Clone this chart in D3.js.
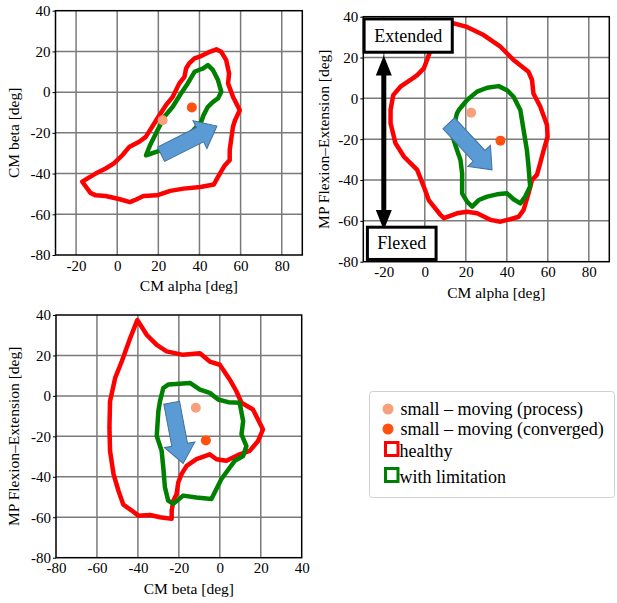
<!DOCTYPE html>
<html>
<head>
<meta charset="utf-8">
<script src="https://cdn.jsdelivr.net/npm/d3@7"></script>
<style>
  body { margin: 0; background: #fff; }
  svg text { font-family: "Liberation Serif", Tinos, "Times New Roman", Times, "DejaVu Serif", serif; fill: #000; }
</style>
</head>
<body>
<svg id="chart" width="617" height="603"></svg>
<script>
// outlines, [x, y] in degrees
var healthyAlphaBeta = [[-17,-44],[-13,-49.5],[-10.5,-50.7],[-5.6,-51],[1.3,-52.6],[6.2,-54],[9.5,-52.6],[12.8,-51],
  [19.3,-50.7],[25.8,-48.5],[32.3,-47.4],[40.5,-46.6],[47,-45.4],[49,-41.6],[52.3,-36],[54.7,-33.4],[54.7,-28.5],
  [56.3,-17],[57.3,-13.8],[59.6,-8.9],[56.3,-2.3],[53.9,4.3],[54.4,9.2],[53,15.7],[50.6,19.8],[48.2,21],[45,19.8],
  [40.8,17.7],[37.6,16.6],[35,14.1],[33.5,11.6],[32.7,7.5],[30.2,4.3],[27,-2.3],[23.7,-6.4],[20.5,-11.3],[18,-15.4],
  [13.9,-22],[10.7,-24.4],[5.8,-27],[2.5,-31],[-1.6,-35],[-5.6,-37.5],[-10.5,-40],[-14.6,-42.5]];
var limitedAlphaBeta = [[14,-31],[16,-26],[19.6,-18.7],[22.9,-12.1],[27,-7.2],[31,-0.7],[34.3,4.3],[37.6,10],[40,11],
  [41.6,11.6],[44.1,13.3],[46.6,10.8],[49,5.9],[50.6,0.2],[49,-3.1],[46.6,-4.8],[44.1,-7.2],[42,-11.3],[40.8,-14.6],
  [35,-21],[28,-26],[19,-29.3]];

var healthyAlphaMP = [[2.8,23.7],[5,30],[9,34.5],[14.1,36.7],[20.6,35],[28.7,31],[36.9,25.3],[43.3,18.8],[50.6,13],
  [52.3,9],[53,2.4],[56.3,-4],[59.6,-13],[59.9,-18.8],[58,-25.3],[56.3,-31.8],[54.7,-37.5],[52.3,-40],[50.6,-46.5],
  [48.2,-54.6],[45.8,-58],[41.7,-59.2],[36.9,-60.4],[32,-59.5],[25.5,-56.3],[20.6,-55.5],[15.7,-56.3],[9.3,-58.7],
  [7.6,-57],[1.9,-49.8],[-0.5,-43.2],[-3.7,-35],[-10.2,-28.5],[-14.3,-22],[-16.7,-12.2],[-16.7,-5.7],[-15.4,1.6],
  [-11.9,5.7],[-7,9],[-3.7,11.4],[-0.5,14.7],[1.1,18.8]];
var limitedAlphaMP = [[16.6,-5.7],[20.6,-0.8],[25.5,3.3],[30.4,5.2],[36,6],[40.1,4],[43.3,0.8],[46.6,-5.7],[48.2,-15.5],
  [49.8,-25.3],[50.6,-33.4],[51.4,-43.2],[49,-48.1],[46.6,-51.4],[43.3,-49.4],[40.1,-46.5],[35.2,-47],[30.4,-48.1],
  [26.3,-49.8],[23.1,-53],[20.6,-50.6],[18.2,-46.5],[18.2,-36.7],[17.4,-30.2],[15.7,-25.3],[14.1,-20.4],[14.1,-13.9],
  [15.7,-7.3]];

var healthyBetaMP = [[-40.3,37.5],[-35.7,30.2],[-30.8,25.2],[-26,22],[-17.9,20.3],[-9.7,21.1],[-4.9,17],[0,15.4],
  [4.9,8],[8.1,2.3],[10.6,-3.4],[16.2,-6.7],[21.1,-16.6],[18.7,-22.3],[14.6,-27.2],[9.7,-28.9],[3.2,-32.1],
  [-1.6,-31.3],[-4.9,-28.9],[-11.4,-31.3],[-16.2,-34.6],[-18.7,-38.7],[-20.3,-42.8],[-21.1,-48.5],[-22.7,-51.8],
  [-23.5,-56.7],[-23.5,-60.8],[-29.2,-60],[-34.1,-58.9],[-39.8,-59.2],[-43,-56.7],[-47.1,-53.8],[-49.5,-46.9],
  [-51.9,-38.7],[-53.6,-27.2],[-53.9,-15.7],[-53.6,-2.6],[-51.1,8.9],[-47.9,17],[-43.8,28.5]];
var limitedBetaMP = [[-27.6,3.9],[-25.2,5.6],[-19.5,6],[-14.6,6.4],[-9.7,3.1],[-4.9,1.5],[-0.8,-1.8],[4.1,-3.1],
  [9.7,-3.4],[11.4,-12.5],[10.6,-19],[13,-24.8],[11.4,-29.7],[7.3,-32.1],[4.9,-35.4],[0.8,-41.1],[-4.1,-51],
  [-11.4,-50.2],[-17.9,-49.3],[-22.7,-53.4],[-25.2,-51.8],[-26.8,-45.2],[-27.6,-35.4],[-28.4,-27.2],[-30.8,-19.8],
  [-30,-7.5],[-29.2,-2.6]];

// small - moving points: [process, converged]
var movingAlphaBeta = [[22.1,-13.8],[36.3,-7.5]];
var movingAlphaMP = [[22.6,-7],[36.9,-20.7]];
var movingBetaMP = [[-11.7,-5.9],[-6.8,-22]];

// block arrows: [tail, tip]
var arrowAlphaBeta = [[21.3,-30.5],[48.5,-16.7]];
var arrowAlphaMP = [[11.7,-12.2],[32.8,-35]];
var arrowBetaMP = [[-23.5,-3.4],[-17.9,-33.4]];

var ticksAlpha = [-20, 0, 20, 40, 60, 80];
var ticksBeta = [-80, -60, -40, -20, 0, 20, 40];
var ticksY = [-80, -60, -40, -20, 0, 20, 40];

var legendLabels = ["small \u2013 moving (process)", "small \u2013 moving (converged)", "healthy", "with limitation"];

var RED = "#ff0000", GREEN = "#008000", PROC = "#f8a07c", CONV = "#ff5010";
var BLUE = "#5b9bd5", BLUE_EDGE = "#41719c";

var svg = d3.select("#chart");
var plain = function(d) { return String(d); };   // hyphen, not the unicode minus

function blockArrow(g, x, y, pts, shaftW, headW, headL, fill, edge) {
  var x0 = x(pts[0][0]), y0 = y(pts[0][1]), x1 = x(pts[1][0]), y1 = y(pts[1][1]);
  var len = Math.hypot(x1 - x0, y1 - y0), ang = Math.atan2(y1 - y0, x1 - x0) * 180 / Math.PI;
  var body = len - headL;
  var poly = [[0,-shaftW/2],[body,-shaftW/2],[body,-headW/2],[len,0],[body,headW/2],[body,shaftW/2],[0,shaftW/2]];
  g.append("polygon")
    .attr("points", poly.map(function(p) { return p.join(","); }).join(" "))
    .attr("transform", "translate(" + x0 + "," + y0 + ") rotate(" + ang + ")")
    .attr("fill", fill).attr("stroke", edge).attr("stroke-width", 1);
}

function panel(opt) {
  var x = d3.scaleLinear().domain(opt.xDomain).range([opt.left, opt.right]);
  var y = d3.scaleLinear().domain([-80, 40]).range([opt.bottom, opt.top]);
  var g = svg.append("g");

  g.append("g").selectAll("line").data(opt.xTicks.filter(function(t) { return t > opt.xDomain[0] && t < opt.xDomain[1]; }))
    .enter().append("line")
    .attr("x1", x).attr("x2", x).attr("y1", opt.top).attr("y2", opt.bottom)
    .attr("stroke", "#7a7a7a").attr("stroke-width", 1.5);
  g.append("g").selectAll("line").data(ticksY.filter(function(t) { return t > -80 && t < 40; }))
    .enter().append("line")
    .attr("y1", y).attr("y2", y).attr("x1", opt.left).attr("x2", opt.right)
    .attr("stroke", "#7a7a7a").attr("stroke-width", 1.5);

  g.append("rect").attr("x", opt.left).attr("y", opt.top)
    .attr("width", opt.right - opt.left).attr("height", opt.bottom - opt.top)
    .attr("fill", "none").attr("stroke", "#000").attr("stroke-width", 1.5);

  var ax = d3.axisBottom(x).tickValues(opt.xTicks).tickSize(0).tickPadding(5).tickFormat(plain);
  g.append("g").attr("transform", "translate(0," + opt.bottom + ")").call(ax)
    .attr("font-family", null).attr("font-size", null)
    .call(function(s) { s.select(".domain").remove(); })
    .selectAll("text").style("font-size", "15px");
  var ay = d3.axisLeft(y).tickValues(ticksY).tickSize(3).tickPadding(2).tickFormat(plain);
  g.append("g").attr("transform", "translate(" + opt.left + ",0)").call(ay)
    .attr("font-family", null).attr("font-size", null)
    .call(function(s) { s.select(".domain").remove(); s.selectAll("line").attr("stroke", "#000"); })
    .selectAll("text").style("font-size", "15px");

  g.append("text").attr("x", (opt.left + opt.right) / 2 + 10).attr("y", opt.bottom + 36)
    .attr("text-anchor", "middle").style("font-size", "15.5px").text(opt.xTitle);
  g.append("text").attr("transform", "translate(" + opt.yTitleX + "," + (opt.top + opt.bottom) / 2 + ") rotate(-90)")
    .attr("text-anchor", "middle").style("font-size", "15.5px").text(opt.yTitle);

  var line = d3.line().x(function(d) { return x(d[0]); }).y(function(d) { return y(d[1]); })
    .curve(d3.curveLinearClosed);
  g.append("path").attr("d", line(opt.healthy)).attr("fill", "none").attr("stroke", RED)
    .attr("stroke-width", 4.5).attr("stroke-linejoin", "round");
  g.append("path").attr("d", line(opt.limited)).attr("fill", "none").attr("stroke", GREEN)
    .attr("stroke-width", 4.5).attr("stroke-linejoin", "round");

  g.selectAll("circle.pt").data(opt.moving).enter().append("circle").attr("class", "pt")
    .attr("cx", function(d) { return x(d[0]); }).attr("cy", function(d) { return y(d[1]); })
    .attr("r", 5).attr("fill", function(d, i) { return i === 0 ? PROC : CONV; });

  blockArrow(g, x, y, opt.arrow, 16, 31, 19, BLUE, BLUE_EDGE);
  return { g: g, x: x, y: y };
}

panel({ left: 55.5, right: 302.3, top: 10.7, bottom: 255, xDomain: [-30, 90], xTicks: ticksAlpha,
  xTitle: "CM alpha [deg]", yTitle: "CM beta [deg]", yTitleX: 19,
  healthy: healthyAlphaBeta, limited: limitedAlphaBeta, moving: movingAlphaBeta, arrow: arrowAlphaBeta });

var p2 = panel({ left: 363.3, right: 609.3, top: 16.7, bottom: 261.7, xDomain: [-30, 90], xTicks: ticksAlpha,
  xTitle: "CM alpha [deg]", yTitle: "MP Flexion\u2013Extension [deg]", yTitleX: 329,
  healthy: healthyAlphaMP, limited: limitedAlphaMP, moving: movingAlphaMP, arrow: arrowAlphaMP });

panel({ left: 56, right: 301.7, top: 315, bottom: 557.7, xDomain: [-80, 40], xTicks: ticksBeta,
  xTitle: "CM beta [deg]", yTitle: "MP Flexion\u2013Extension [deg]", yTitleX: 19,
  healthy: healthyBetaMP, limited: limitedBetaMP, moving: movingBetaMP, arrow: arrowBetaMP });

// Extended / Flexed annotation on panel 2
(function() {
  var x = p2.x, y = p2.y, g = p2.g;
  var ax = x(-20), yTop = y(21), yBot = y(-64.5);
  var hw = 8, hl = 20, sw = 2.5;
  g.append("polygon")
    .attr("points", [[ax, yTop],[ax+hw, yTop+hl],[ax+sw, yTop+hl],[ax+sw, yBot-hl],[ax+hw, yBot-hl],[ax, yBot],
      [ax-hw, yBot-hl],[ax-sw, yBot-hl],[ax-sw, yTop+hl],[ax-hw, yTop+hl]].map(function(p) { return p.join(","); }).join(" "))
    .attr("fill", "#000");
  var boxes = [
    { label: "Extended", x0: -29.6, x1: 13.4, y0: 38.9, y1: 22.6 },
    { label: "Flexed", x0: -28, x1: 5.5, y0: -63.1, y1: -78.9 }
  ];
  boxes.forEach(function(b) {
    g.append("rect").attr("x", x(b.x0)).attr("y", y(b.y0))
      .attr("width", x(b.x1) - x(b.x0)).attr("height", y(b.y1) - y(b.y0))
      .attr("fill", "#fff").attr("stroke", "#000").attr("stroke-width", 3);
    g.append("text").attr("x", (x(b.x0) + x(b.x1)) / 2).attr("y", (y(b.y0) + y(b.y1)) / 2 + 6)
      .attr("text-anchor", "middle").style("font-size", "18px").text(b.label);
  });
})();

// legend
var leg = svg.append("g");
leg.append("rect").attr("x", 369.5).attr("y", 391.5).attr("width", 245).attr("height", 106).attr("rx", 3)
  .attr("fill", "#fff").attr("stroke", "#d0d0d0").attr("stroke-width", 1);
var rowY = [409, 429, 451, 477];
legendLabels.forEach(function(lab, i) {
  if (i < 2) {
    leg.append("circle").attr("cx", 388).attr("cy", rowY[i]).attr("r", 5.5).attr("fill", i === 0 ? PROC : CONV);
  } else {
    leg.append("rect").attr("x", 385.5).attr("y", rowY[i] - 8.5).attr("width", 12.5).attr("height", 13)
      .attr("fill", "none").attr("stroke", i === 2 ? RED : GREEN).attr("stroke-width", 3);
  }
  leg.append("text").attr("x", i < 2 ? 400.5 : 399.5).attr("y", rowY[i] + 6).style("font-size", "18px").text(lab);
});
</script>
</body>
</html>
